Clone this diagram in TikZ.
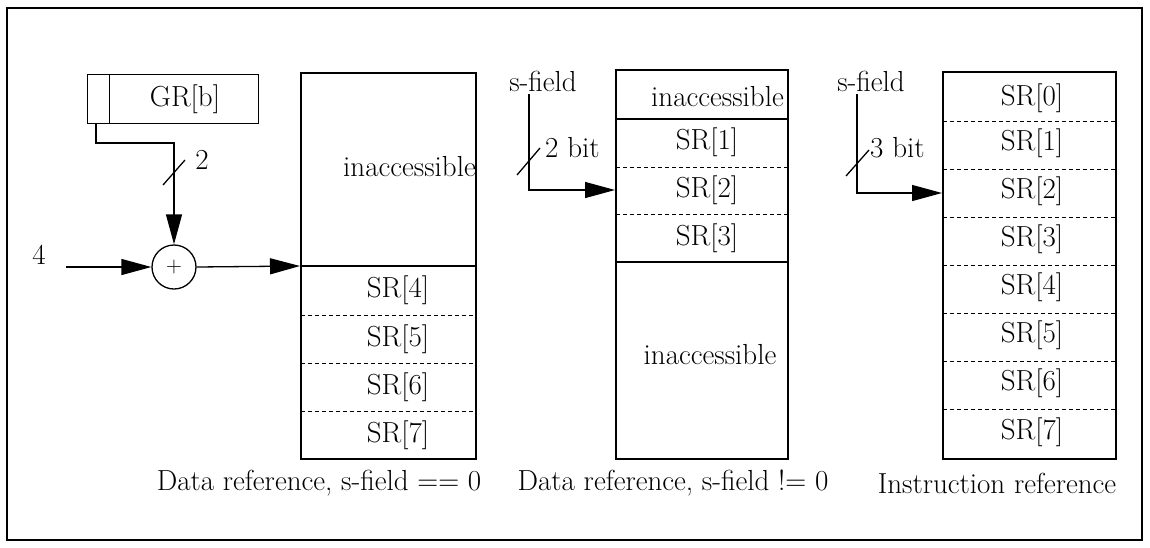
\documentclass[tikz,border=0pt]{standalone}
\usepackage{fontspec}
\setmainfont{Latin Modern Roman}
\usetikzlibrary{arrows.meta}
\begin{document}
\begin{tikzpicture}[x=1pt,y=-1pt,
  every node/.style={font=\fontsize{29}{33}\selectfont, inner sep=0pt},
  ln/.style={line width=1.3pt},
  arr/.style={ln, -{Triangle[length=30pt,width=16pt]}},
  sep/.style={line width=1pt, dashed, dash pattern=on 4pt off 3pt},
  box/.style={draw, line width=1.3pt, inner sep=0pt}]
\useasboundingbox (0,0) rectangle (1150,547);
\draw[line width=1.6pt] (7,8) rectangle (1142,540);

% ---- column 1 ----
\node[box, minimum width=22pt, minimum height=49pt, anchor=north west] (grcell) at (87,74) {};
\node[box, minimum width=149pt, minimum height=49pt, anchor=north west] (grmain) at (109,74) {};
\node at (185,99) {GR[b]};
\node[draw, circle, line width=1.3pt, minimum size=44pt] (plus) at (174,267) {};
\node[font=\fontsize{22}{24}\selectfont] at (plus) {+};
\node (four) at (39,255) {4};
\coordinate (in4) at (66,267);
\draw[ln] (301,73) rectangle (476,459);
\draw[ln] (301,266) -- (476,266);
\foreach \y in {315,363,411} \draw[sep] (301,\y) -- (476,\y);
\node[anchor=east] (inacc1) at (476,167) {inaccessible};
\node at (398,290) {SR[4]};
\node at (398,339) {SR[5]};
\node at (398,387) {SR[6]};
\node at (398,435) {SR[7]};
\coordinate (c1in) at (300,266);
\draw[arr] (96,123) -- (96,143) -| (plus.north);
\draw[ln] (163,185) -- (185,160);
\node (two) at (202,160) {2};
\draw[arr] (in4) -- (plus.west);
\draw[arr] (plus.east) -- (c1in);
\node (cap1) at (319,483) {Data reference, s-field == 0};

% ---- column 2 ----
\draw[ln] (616,70) rectangle (788,459);
\draw[ln] (616,119) -- (788,119);
\draw[ln] (616,262) -- (788,262);
\foreach \y in {167,214} \draw[sep] (616,\y) -- (788,\y);
\node[anchor=east] (inacc2) at (784,97) {inaccessible};
\node at (707,142) {SR[1]};
\node at (707,190) {SR[2]};
\node at (707,238) {SR[3]};
\node (inacc3) at (710,355) {inaccessible};
\node (sf1) at (543,81) {s-field};
\coordinate (s1) at (529,94);
\coordinate (c2in) at (615,190);
\draw[arr] (s1) |- (c2in);
\draw[ln] (517,175) -- (540,148);
\node[anchor=west] (b2) at (545,148) {2 bit};
\node (cap2) at (673,483) {Data reference, s-field != 0};

% ---- column 3 ----
\draw[ln] (943,72) rectangle (1116,459);
\foreach \y in {121,169,217,265,313,361,409} \draw[sep] (943,\y) -- (1116,\y);
\foreach \i/\y in {0/98,1/143,2/191,3/239,4/287,5/335,6/383,7/432}
  \node at (1032,\y) {SR[\i]};
\node (sf2) at (871,81) {s-field};
\coordinate (s2) at (857,94);
\coordinate (c3in) at (942,193);
\draw[arr] (s2) |- (c3in);
\draw[ln] (846,176) -- (869,150);
\node[anchor=west] (b3) at (870,148) {3 bit};
\node (cap3) at (997,483) {Instruction reference};
\end{tikzpicture}
\end{document}
